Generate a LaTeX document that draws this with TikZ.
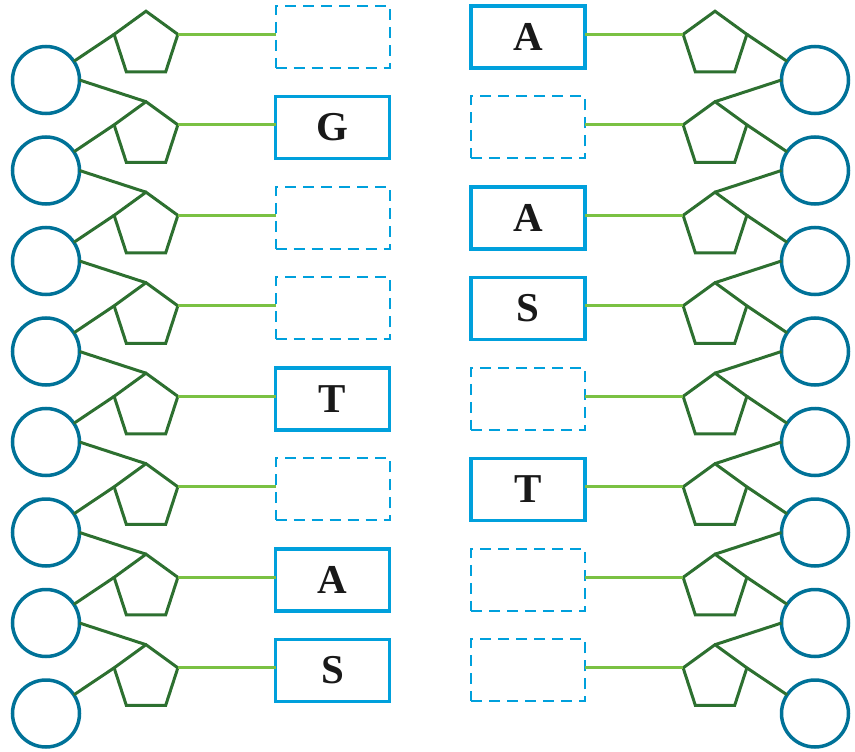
\documentclass[tikz,border=0pt]{standalone}
\usepackage{fontspec}
\setmainfont{Liberation Serif}
\usetikzlibrary{shapes.geometric, calc}
\definecolor{dnaTeal}{RGB}{0,114,152}
\definecolor{dnaCyan}{RGB}{0,160,220}
\definecolor{dnaGreen}{RGB}{45,112,48}
\definecolor{dnaLime}{RGB}{122,193,67}
\tikzset{
  phosphate/.style={circle, draw=dnaTeal, line width=3.5pt, minimum size=67pt, inner sep=0pt, outer sep=0pt},
  sugar/.style={regular polygon, regular polygon sides=5, draw=dnaGreen, line width=3pt, minimum size=67pt, inner sep=0pt, outer sep=0pt},
  base/.style={rectangle, draw=dnaCyan, line width=3.5pt, minimum width=114pt, minimum height=62pt, inner sep=0pt, outer sep=0pt, text=black!90, font=\fontsize{41}{41}\selectfont\bfseries},
  openbase/.style={base, line width=2pt, dash pattern=on 11pt off 7pt},
  backbone/.style={dnaGreen, line width=3pt},
  hbond/.style={dnaLime, line width=3pt}
}

\begin{document}
\begin{tikzpicture}[x=1pt, y=-1pt]
    \useasboundingbox (0,0) rectangle (855,752);
    % left strand: sugars, phosphates, bases (top to bottom)
    \foreach \i/\s/\t in {0/openbase/{}, 1/base/G, 2/openbase/{}, 3/openbase/{}, 4/base/T, 5/openbase/{}, 6/base/A, 7/base/S} {
        \node[sugar] (ls\i) at (146,44.7+90.5*\i) {};
        \node[phosphate] (lp\i) at (46,80+90.5*\i) {};
        \node[\s] (lb\i) at (332.5,36.8+90.5*\i) {\t};
    }
    % right strand
    \foreach \i/\s/\t in {0/base/A, 1/openbase/{}, 2/base/A, 3/base/S, 4/openbase/{}, 5/base/T, 6/openbase/{}, 7/openbase/{}} {
        \node[sugar] (rs\i) at (715,44.7+90.5*\i) {};
        \node[phosphate] (rp\i) at (815,80+90.5*\i) {};
        \node[\s] (rb\i) at (528,36.8+90.5*\i) {\t};
    }
    % base links and backbone
    \foreach \i in {0,...,7} {
        \draw[hbond] (ls\i.corner 5) -- (ls\i.corner 5 -| lb\i.west);
        \draw[hbond] (rs\i.corner 2) -- (rs\i.corner 2 -| rb\i.east);
        \draw[backbone] (lp\i) -- (ls\i.corner 2);
        \draw[backbone] (rp\i) -- (rs\i.corner 5);
    }
    \foreach \i [evaluate=\i as \j using int(\i+1)] in {0,...,6} {
        \draw[backbone] (lp\i.east) -- (ls\j.corner 1);
        \draw[backbone] (rp\i.west) -- (rs\j.corner 1);
    }
\end{tikzpicture}
\end{document}
